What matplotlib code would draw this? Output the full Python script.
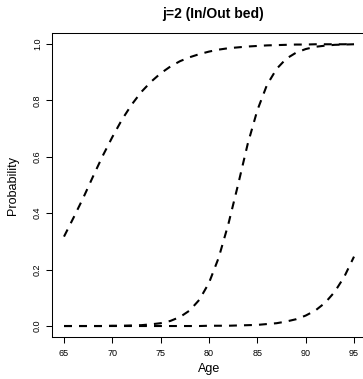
import matplotlib

matplotlib.use("Agg")
import matplotlib.pyplot as plt
import numpy as np

# values, one per year of age
age = np.arange(65, 96)

p_curve1 = [
    0.317, 0.385, 0.455, 0.530, 0.603, 0.670, 0.732, 0.785, 0.830, 0.866,
    0.896, 0.920, 0.939, 0.953, 0.964, 0.973, 0.980, 0.985, 0.988, 0.991,
    0.993, 0.995, 0.996, 0.997, 0.998, 0.998, 0.999, 0.999, 0.999, 0.999,
    1.000,
]
p_curve2 = [
    0.000, 0.000, 0.000, 0.000, 0.000, 0.001, 0.001, 0.002, 0.003, 0.006,
    0.010, 0.018, 0.032, 0.055, 0.093, 0.153, 0.242, 0.361, 0.500, 0.645,
    0.765, 0.855, 0.912, 0.948, 0.969, 0.982, 0.990, 0.994, 0.997, 0.998,
    0.999,
]
p_curve3 = [
    0.000, 0.000, 0.000, 0.000, 0.000, 0.000, 0.000, 0.000, 0.000, 0.000,
    0.000, 0.000, 0.000, 0.000, 0.000, 0.001, 0.001, 0.001, 0.002, 0.003,
    0.004, 0.007, 0.010, 0.016, 0.024, 0.037, 0.055, 0.082, 0.121, 0.175,
    0.246,
]

x_ticks = [65, 70, 75, 80, 85, 90, 95]
y_ticks = [0.0, 0.2, 0.4, 0.6, 0.8, 1.0]
y_tick_labels = ["0.0", "0.2", "0.4", "0.6", "0.8", "1.0"]

plt.rcParams["font.family"] = ["Liberation Sans", "DejaVu Sans"]

fig = plt.figure(figsize=(3.63, 3.79), dpi=100)
W, H = 363, 379
left, right, top, bottom = 52.4, 365.6, 32.7, 337.3
ax = fig.add_axes([left / W, 1 - bottom / H, (right - left) / W, (bottom - top) / H])

for p in (p_curve1, p_curve2, p_curve3):
    ax.plot(age, p, color="black", linewidth=1.5, dashes=(3.8, 3.4))

ax.set_xlim(63.8, 96.2)
ax.set_ylim(-0.04, 1.04)
ax.set_xticks(x_ticks)
ax.set_yticks(y_ticks)
ax.set_yticklabels(y_tick_labels, rotation=90, va="center")

ax.tick_params(axis="both", length=4.3, width=0.75, labelsize=6.5, colors="black")
ax.tick_params(axis="x", pad=4)
ax.tick_params(axis="y", pad=3.2)
for s in ax.spines.values():
    s.set_linewidth(0.75)

ax.set_xlabel("Age", fontsize=9)
ax.xaxis.set_label_coords(0.5, -0.085)
ax.set_ylabel("Probability", fontsize=9)
ax.yaxis.set_label_coords(-0.108, 0.5)

fig.text(213 / W, 1 - 14 / H, "j=2 (In/Out bed)", fontsize=10, fontweight="bold",
         ha="center", va="center")

fig.savefig("out.png", dpi=100)
